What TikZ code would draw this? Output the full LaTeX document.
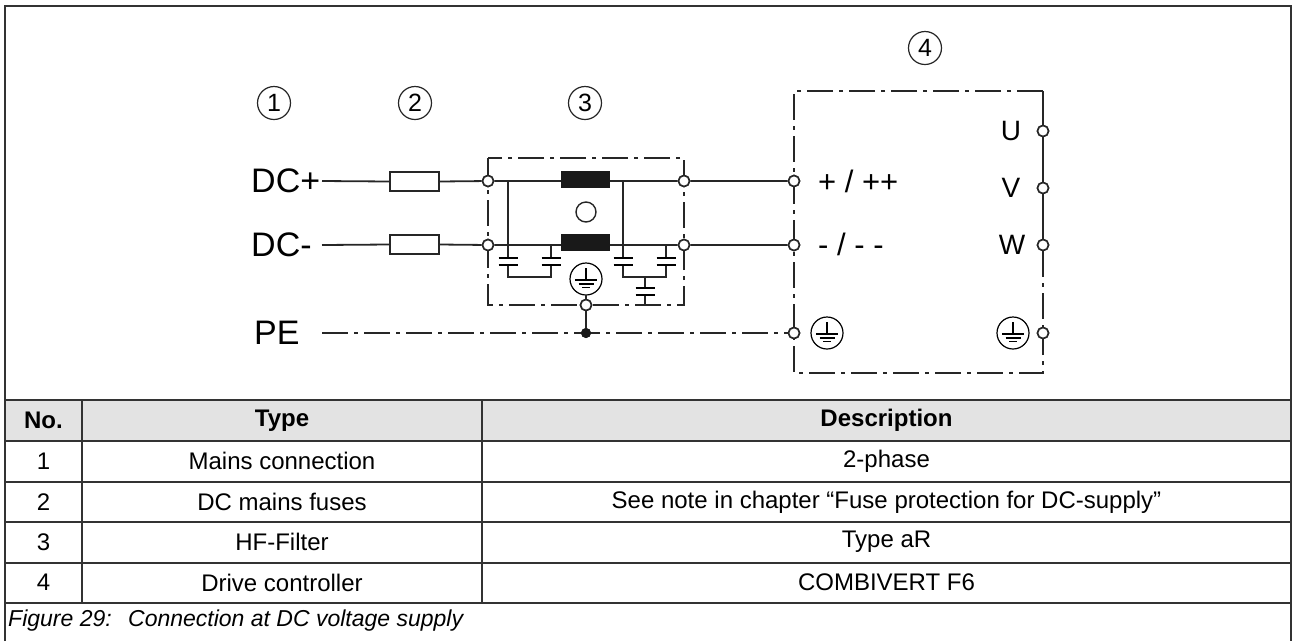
\documentclass[tikz,border=0pt]{standalone}
\usepackage{fontspec}
\setmainfont{Liberation Sans}
\begin{document}
\begin{tikzpicture}[x=1pt,y=-1pt,
  wire/.style={line width=1.8pt, draw=black!85},
  fwire/.style={line width=1.5pt, draw=black!85},
  dashdot/.style={line width=1.8pt, draw=black!85, dash pattern=on 26pt off 6pt on 4pt off 6pt},
  term/.style={circle, draw=black!85, line width=1.6pt, fill=white, minimum size=11pt, inner sep=0pt},
  fuse/.style={rectangle, draw=black!85, line width=1.4pt, fill=white, minimum width=49pt, minimum height=19pt, inner sep=0pt},
  choke/.style={rectangle, fill=black!90, minimum width=49pt, minimum height=17pt, inner sep=0pt},
  num/.style={circle, draw=black!85, line width=1.2pt, minimum size=33pt, inner sep=0pt, font=\fontsize{25}{25}\selectfont},
  big/.style={inner sep=0pt, font=\fontsize{34}{34}\selectfont},
  mid/.style={inner sep=0pt, font=\fontsize{28}{28}\selectfont},
  cell/.style={inner sep=0pt, font=\fontsize{24}{24}\selectfont},
  head/.style={inner sep=0pt, font=\fontsize{24}{24}\selectfont\bfseries},
  capt/.style={inner sep=0pt, anchor=west, font=\fontsize{23}{23}\selectfont\itshape},
  tline/.style={line width=2pt, draw=black!80},
  earthsym/.pic={
    \draw[line width=1.2pt] (0,0) circle (16);
    \draw[line width=1.2pt] (0,-11) -- (0,1) (-11,1) -- (11,1) (-7.5,5) -- (7.5,5) (-4,8.7) -- (4,8.7);
  },
  capsym/.pic={
    \draw[line width=1.5pt] (-9.5,-3.5) -- (9.5,-3.5) (-9.5,3.5) -- (9.5,3.5);
  }
]
\useasboundingbox (0,0) rectangle (1293,641);

% ---------- frame and table ----------
\fill[black!11] (5,400) rectangle (1291,441);
\draw[tline] (5,641) -- (5,6) -- (1291,6) -- (1291,641);
\foreach \yy in {400,441,481.5,522,562.5,603} \draw[tline] (5,\yy) -- (1291,\yy);
\draw[tline] (82,400) -- (82,603);
\draw[tline] (482,400) -- (482,603);

\node[head] (hno)  at (43.5,420.5) {No.};
\node[head] (htyp) at (282,420.5) {Type};
\node[head] (hdes) at (886.5,420.5) {Description};

\node[cell] (n1) at (43.5,461) {1};
\node[cell] (t1) at (282,461) {Mains connection};
\node[cell] (d1) at (886.5,461) {2-phase};
\node[cell] (n2) at (43.5,502) {2};
\node[cell] (t2) at (282,502) {DC mains fuses};
\node[cell] (d2) at (886.5,502) {See note in chapter “Fuse protection for DC-supply”};
\node[cell] (n3) at (43.5,542) {3};
\node[cell] (t3) at (282,542) {HF-Filter};
\node[cell] (d3) at (886.5,542) {Type aR};
\node[cell] (n4) at (43.5,582.5) {4};
\node[cell] (t4) at (282,582.5) {Drive controller};
\node[cell] (d4) at (886.5,582.5) {COMBIVERT F6};

\node[capt] (cap1) at (8,621) {Figure 29:};
\node[capt] (cap2) at (128,621) {Connection at DC voltage supply};

% ---------- numbers ----------
\node[num] (c1) at (274,103) {1};
\node[num] (c2) at (415,103) {2};
\node[num] (c3) at (585,103) {3};
\node[num] (c4) at (925,48) {4};

% ---------- left labels ----------
\node[big, anchor=west] (lp) at (251,181) {DC+};
\node[big, anchor=west] (lm) at (251,245) {DC-};
\node[big, anchor=west] (lpe) at (254,333) {PE};
\coordinate (sp) at (322,181);
\coordinate (sm) at (322,245);
\coordinate (spe) at (322,333);

% ---------- filter box ----------
\draw[dashdot] (488,158) rectangle (684,305);

% fuses
\node[fuse] (f1) at (414.5,181.5) {};
\node[fuse] (f2) at (414.5,244.5) {};

% chokes
\node[choke] (k1) at (585.5,179.5) {};
\node[choke] (k2) at (585.5,242.5) {};
\node[circle, draw=black!85, line width=1.4pt, minimum size=20pt, inner sep=0pt] (core) at (586,212) {};

% capacitors network
\draw[fwire] (508,181) -- (508,258) (551,245) -- (551,258)
             (508,265) -- (508,277) -- (551,277) -- (551,265);
\draw[fwire] (623,181) -- (623,258) (666,245) -- (666,258)
             (623,265) -- (623,277) -- (666,277) -- (666,265);
\draw[fwire] (645,277) -- (645,288) (645,295) -- (645,305);
\pic at (508,261.5) {capsym};
\pic at (551,261.5) {capsym};
\pic at (623,261.5) {capsym};
\pic at (666,261.5) {capsym};
\pic at (645,291.5) {capsym};

% filter earth
\node[circle, minimum size=32pt, inner sep=0pt] (fgnd) at (586,279) {};
\pic at (586,279) {earthsym};

% ---------- drive box ----------
\coordinate (dtl) at (794,91);
\coordinate (dtr) at (1043,91);
\coordinate (dbl) at (794,373);
\coordinate (dbr) at (1043,373);
\node[term] (tU) at (1043,131) {};
\node[term] (tV) at (1043,188) {};
\node[term] (tW) at (1043,245) {};
\node[term] (tPEr) at (1043,333) {};

\draw[wire] (tU.north) -- (dtr);
\draw[wire] (tU) -- (tV) -- (tW);
\draw[dashdot] (dtr) -- (dtl) -- (dbl) -- (dbr) -- (tPEr.south);
\draw[dashdot] (tW.south) -- (tPEr.north);

\node[mid] (lU) at (1011,131) {U};
\node[mid] (lV) at (1011,188) {V};
\node[mid] (lW) at (1012,245) {W};
\node[mid, anchor=west, font=\fontsize{31}{31}\selectfont] (lpp) at (818,181) {+ / ++};
\node[mid, anchor=west, font=\fontsize{31}{31}\selectfont] (lmm) at (818,244) {- / - -};

\pic at (827,333) {earthsym};
\pic at (1013,333) {earthsym};

% ---------- wires ----------
\node[term] (fl1) at (488,181) {};
\node[term] (fl2) at (488,245) {};
\node[term] (fr1) at (684,181) {};
\node[term] (fr2) at (684,245) {};
\node[term] (fpe) at (586,305) {};
\node[term] (dp) at (794,181) {};
\node[term] (dm) at (794,245) {};
\node[term] (dpe) at (794,333) {};
\node[circle, fill=black!90, minimum size=10pt, inner sep=0pt] (dot) at (586,333) {};

\draw[wire] (sp) -- (f1.west) (f1.east) -- (fl1) (fl1) -- (k1.west |- fl1) (k1.east |- fr1) -- (fr1) (fr1) -- (dp);
\draw[wire] (sm) -- (f2.west) (f2.east) -- (fl2) (fl2) -- (k2.west |- fl2) (k2.east |- fr2) -- (fr2) (fr2) -- (dm);
\draw[dashdot] (spe) -- (dpe.west);
\draw[wire] (fgnd.south) -- (fpe.north) (fpe.south) -- (dot);

% redraw terminals on top
\foreach \t in {fl1,fl2,fr1,fr2,fpe,dp,dm,dpe,tU,tV,tW,tPEr}
  \node[term] at (\t) {};
\node[circle, fill=black!90, minimum size=10pt, inner sep=0pt] at (dot) {};
\end{tikzpicture}
\end{document}
